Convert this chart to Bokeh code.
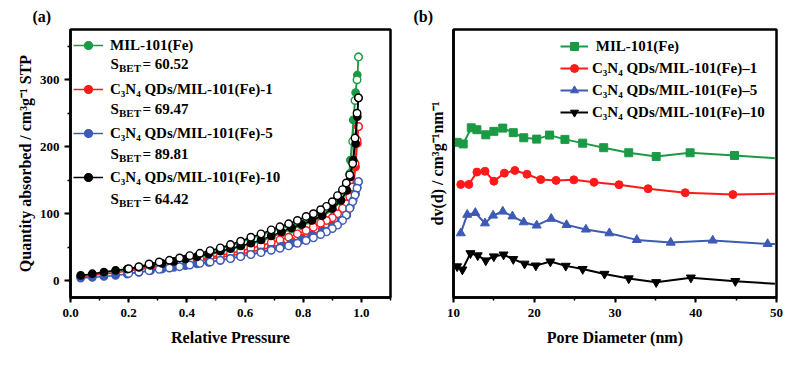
from bokeh.plotting import figure
from bokeh.layouts import row
from bokeh.models import (Legend, LegendItem, Label, SingleIntervalTicker, FixedTicker,
                          PrintfTickFormatter, Range1d)
from bokeh.embed import file_html
from bokeh.resources import INLINE

FONT = "'Liberation Serif', 'Times New Roman', serif"
GREEN = "#1b9a46"
RED = "#ff1a1a"
BLUE = "#3d5bb5"
BLACK = "#000000"

# ---------------- (a) N2 isotherms ----------------
ads_p = [0.035, 0.075, 0.115, 0.155, 0.195, 0.235, 0.275, 0.315, 0.355, 0.395, 0.435,
         0.475, 0.515, 0.55, 0.585, 0.62, 0.655, 0.69, 0.725, 0.76, 0.795, 0.83, 0.865,
         0.9, 0.93, 0.95, 0.962, 0.972, 0.98, 0.986, 0.99]
des_p = [0.99, 0.985, 0.978, 0.97, 0.96, 0.948, 0.935, 0.918, 0.9, 0.88, 0.86, 0.835,
         0.81, 0.78, 0.75, 0.72, 0.69, 0.655, 0.62, 0.585, 0.55, 0.515, 0.48, 0.445,
         0.41, 0.375, 0.34, 0.305, 0.27, 0.235, 0.2]

green_ads = [7, 9.5, 12, 14.5, 16.5, 19, 22, 25, 28, 31, 34.5, 38.5, 42.5, 46.5, 50.5,
             54.5, 59, 65, 71, 77, 82, 88, 95, 106, 118, 133, 180, 240, 281, 307, 334]
green_des = [334, 300, 269, 208, 160, 144, 134, 125, 116, 109, 104, 98, 94, 88, 83, 78.5,
             74, 68, 63, 57, 52, 47, 43, 39, 35.5, 32, 28.5, 26, 23, 19, 16]
red_ads = [6, 8, 10, 12, 14.5, 17, 19.5, 22, 24.5, 27, 29.5, 32, 35, 37.5, 40, 43, 46.5,
           50, 54.5, 59, 64, 69, 76, 83, 90, 103, 118, 135, 170, 205, 230]
red_des = [230, 210, 175, 140, 125, 115, 108, 100, 94, 90, 86, 80, 75, 70, 65, 61, 57,
           52.5, 48.5, 44.5, 41, 38, 35, 32, 29.5, 27, 24.5, 22, 19.5, 17, 15]
blue_ads = [4, 5, 6.5, 8, 10, 12.5, 15, 17.5, 20, 22.5, 25, 27.5, 30.5, 33.5, 36.5, 39.5,
            43, 47, 51.5, 56, 61, 67, 73, 80, 90, 98, 110, 120, 130, 140, 148]
blue_des = [148, 138, 128, 118, 108, 98, 90, 83, 78, 73, 69, 64, 60, 56, 52, 48.5, 45.5,
            42, 39, 36, 33, 30.5, 28, 26, 23.5, 21, 19, 17, 15, 13, 11]
black_ads = [8, 10.5, 13, 15.5, 17.5, 20, 23, 26, 29, 32.5, 36, 40, 44, 48, 52, 56, 61,
             67, 73, 79, 84, 90, 97, 108, 120, 135, 155, 180, 205, 245, 273]
black_des = [273, 250, 213, 175, 158, 146, 136, 127, 118, 111, 106, 100, 96, 90, 85,
             80.5, 76, 70, 65, 59, 54, 49, 45, 41, 37.5, 34, 30.5, 28, 25, 21, 18]

names_a = ["MIL-101(Fe)", "C₃N₄ QDs/MIL-101(Fe)-1", "C₃N₄ QDs/MIL-101(Fe)-5",
           "C₃N₄ QDs/MIL-101(Fe)-10"]
sbet = ["60.52", "69.47", "89.81", "64.42"]

# ---------------- (b) pore size distribution ----------------
green_d = [10.45, 11.2, 12.2, 12.9, 14.0, 15.0, 16.1, 17.4, 18.7, 20.3, 21.9, 23.8, 26.0,
           28.6, 31.7, 35.1, 39.3, 44.8, 49.8]
green_v = [57.9, 57.3, 63.3, 62.6, 60.7, 62.0, 63.2, 61.5, 59.6, 59.1, 60.6, 59.0, 57.6,
           55.9, 54.0, 52.6, 54.0, 53.0, 52.0]
red_d = [10.9, 11.9, 12.9, 13.9, 15.0, 16.3, 17.6, 19.1, 20.8, 22.7, 24.9, 27.4, 30.5,
         34.1, 38.7, 44.6, 49.8]
red_v = [42.2, 42.2, 46.8, 47.1, 43.4, 46.4, 47.4, 46.0, 44.0, 43.7, 43.9, 43.0, 42.1,
         40.6, 39.1, 38.4, 38.7]
blue_d = [10.9, 11.7, 12.7, 13.9, 14.9, 16.1, 17.3, 18.7, 20.3, 22.1, 24.0, 26.4, 29.3,
          32.7, 36.9, 42.1, 48.9, 49.8]
blue_v = [24.0, 30.9, 31.6, 27.7, 30.6, 32.1, 30.3, 28.1, 26.9, 29.4, 27.1, 25.4, 24.0,
          21.5, 20.5, 21.3, 20.0, 20.0]
black_d = [10.45, 11.1, 12.1, 13.0, 14.0, 15.0, 16.2, 17.4, 18.8, 20.2, 22.0, 23.9, 26.0,
           28.7, 31.7, 35.1, 39.4, 44.9, 49.8]
black_v = [11.6, 10.4, 16.5, 15.7, 13.8, 15.3, 16.0, 14.3, 12.6, 11.9, 13.4, 11.8, 10.6,
           8.8, 7.1, 5.7, 7.4, 6.1, 5.1]

names_b = [" MIL-101(Fe)", "C₃N₄ QDs/MIL-101(Fe)–1", "C₃N₄ QDs/MIL-101(Fe)–5",
           "C₃N₄ QDs/MIL-101(Fe)–10"]


def style(p):
    p.outline_line_color = "black"
    p.outline_line_width = 2.5
    p.xgrid.visible = False
    p.ygrid.visible = False
    p.background_fill_color = "white"
    p.border_fill_color = "white"
    for ax in p.axis:
        ax.axis_line_width = 2.5
        ax.axis_line_color = "black"
        ax.major_tick_line_width = 2
        ax.minor_tick_line_width = 1.5
        ax.major_tick_out = 5
        ax.major_tick_in = 0
        ax.minor_tick_out = 3
        ax.minor_tick_in = 0
        ax.major_label_text_font = FONT
        ax.major_label_text_font_style = "bold"
        ax.major_label_text_font_size = "13px"
        ax.major_label_text_color = "black"
        ax.axis_label_text_font = FONT
        ax.axis_label_text_font_style = "bold"
        ax.axis_label_text_font_size = "16px"
        ax.axis_label_text_color = "black"
    p.title.text_font = FONT
    p.title.text_font_style = "bold"
    p.title.text_font_size = "16px"
    p.title.text_color = "black"
    p.title.align = "left"
    p.title.text_baseline = "middle"


def lab(p, x, y, text, size="15px", align="left"):
    p.add_layout(Label(x=x, y=y, x_units="screen", y_units="screen", text=text,
                       text_font=FONT, text_font_style="bold", text_font_size=size,
                       text_color="black", text_baseline="middle", text_align=align))


# ---------- panel (a) ----------
p1 = figure(width=400, height=362, output_backend="svg", toolbar_location=None,
            title="(a)",
            x_range=Range1d(0, 1.1), y_range=Range1d(-25, 375),
            min_border_left=70, min_border_right=10, min_border_top=29,
            min_border_bottom=65)
style(p1)
p1.title.offset = -38
p1.xaxis.ticker = SingleIntervalTicker(interval=0.2, num_minor_ticks=2)
p1.xaxis.formatter = PrintfTickFormatter(format="%.1f")
p1.yaxis.ticker = SingleIntervalTicker(interval=100, num_minor_ticks=2)
p1.xaxis.axis_label = "Relative Pressure"
p1.yaxis.axis_label = "Quantity absorbed / cm³g⁻¹ STP"
p1.xaxis.major_label_standoff = 6
p1.xaxis.axis_label_standoff = 9
p1.yaxis.major_tick_out = 6
p1.yaxis.major_label_standoff = 5
p1.yaxis.axis_label_standoff = 3

series_a = [(GREEN, green_ads, green_des), (RED, red_ads, red_des),
            (BLUE, blue_ads, blue_des), (BLACK, black_ads, black_des)]
items_a = []
for (col, qa, qd), nm in zip(series_a, names_a):
    la = p1.line(ads_p, qa, line_color=col, line_width=1.5)
    sa = p1.scatter(ads_p, qa, marker="circle", size=7.5, fill_color=col, line_color=col,
                    line_width=1.2)
    p1.line(des_p, qd, line_color=col, line_width=1.5)
    p1.scatter(des_p, qd, marker="circle", size=7.5, fill_color="white", line_color=col,
               line_width=1.4)
    items_a.append(LegendItem(label=nm, renderers=[la, sa]))

leg_a = Legend(items=items_a, location=(3, 110), glyph_width=30, glyph_height=20,
               label_height=20, spacing=24, padding=0, margin=0, label_standoff=7,
               border_line_alpha=0, background_fill_alpha=0,
               label_text_font=FONT, label_text_font_style="bold",
               label_text_font_size="15px", label_text_color="black")
p1.add_layout(leg_a)

for i, v in enumerate(sbet):
    yc = 234 - 45 * i
    lab(p1, 40, yc, "S")
    lab(p1, 48.5, yc - 4, "BET", size="11px")
    lab(p1, 72, yc, "= " + v)

# ---------- panel (b) ----------
p2 = figure(width=391, height=362, output_backend="svg", toolbar_location=None,
            title="(b)",
            x_range=Range1d(10, 50), y_range=Range1d(0, 100),
            min_border_left=53, min_border_right=15, min_border_top=29,
            min_border_bottom=65)
style(p2)
p2.title.offset = -40
p2.xaxis.ticker = SingleIntervalTicker(interval=10, num_minor_ticks=2)
p2.yaxis.ticker = FixedTicker(ticks=[])
p2.xaxis.axis_label = "Pore Diameter (nm)"
p2.yaxis.axis_label = "dv(d) / cm³g⁻¹nm⁻¹"
p2.xaxis.major_label_standoff = 6
p2.xaxis.axis_label_standoff = 9
p2.yaxis.major_tick_out = 0
p2.yaxis.minor_tick_out = 0
p2.yaxis.major_label_standoff = 0
p2.yaxis.axis_label_standoff = 8

series_b = [(GREEN, green_d, green_v, "square", 8), (RED, red_d, red_v, "circle", 8),
            (BLUE, blue_d, blue_v, "triangle", 9),
            (BLACK, black_d, black_v, "inverted_triangle", 9)]
items_b = []
for (col, xd, yv, mk, sz), nm in zip(series_b, names_b):
    ln = p2.line(xd, yv, line_color=col, line_width=2)
    sc = p2.scatter(xd[:-1], yv[:-1], marker=mk, size=sz, fill_color=col, line_color=col)
    items_b.append(LegendItem(label=nm, renderers=[ln, sc]))

leg_b = Legend(items=items_b, location=(107, 175), glyph_width=28, glyph_height=20,
               label_height=20, spacing=2, padding=0, margin=0, label_standoff=4,
               border_line_alpha=0, background_fill_alpha=0,
               label_text_font=FONT, label_text_font_style="bold",
               label_text_font_size="15px", label_text_color="black")
p2.add_layout(leg_b)

layout = row(p1, p2)
open("out.html", "w").write(file_html(layout, INLINE))
